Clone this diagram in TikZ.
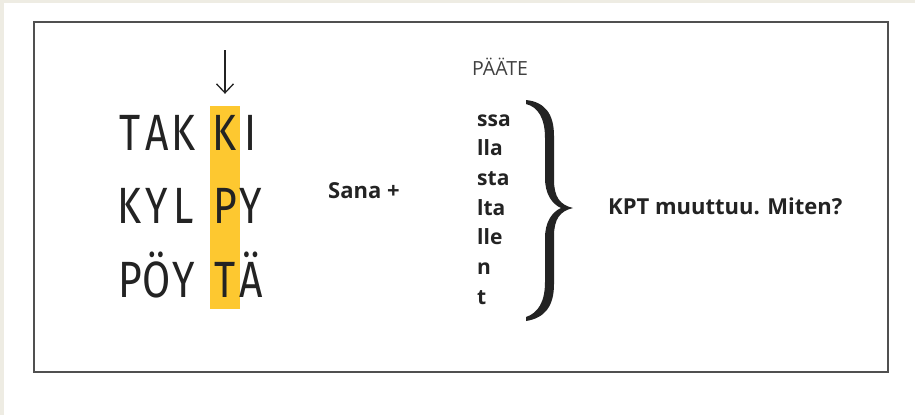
\documentclass[tikz,border=0pt]{standalone}
\usepackage{fontspec}
\setmainfont{Open Sans}
\newfontfamily\letterFont[FakeStretch=0.8]{Fira Sans}
\usetikzlibrary{arrows.meta}
\tikzset{>={Straight Barb[length=9pt,width=17pt]}}
\definecolor{pageColour}{RGB}{238,236,227}
\definecolor{frameColour}{RGB}{80,80,80}
\definecolor{barColour}{RGB}{253,200,48}
\definecolor{inkColour}{RGB}{35,35,35}
\tikzset{
	wordletter/.style={anchor=base, inner sep=0pt, text=inkColour, font=\letterFont\fontsize{51}{51}\selectfont},
	suffix/.style={anchor=base west, inner sep=0pt, text=inkColour, font=\bfseries\fontsize{21}{21}\selectfont},
	label/.style={anchor=base west, inner sep=0pt, text=inkColour, font=\bfseries\fontsize{22}{22}\selectfont},
	heading/.style={anchor=base west, inner sep=0pt, text=black!75, font=\fontsize{19.5}{19.5}\selectfont},
	pointer/.style={->, line width=1.3pt, draw=inkColour, shorten >=12pt}
}

\begin{document}
\begin{tikzpicture}[x=1pt, y=-1pt]
		\useasboundingbox (0, 0) rectangle (915, 415);
		% the page
		\fill[pageColour] (0, 0) rectangle (915, 415);
		\fill[white] (4, 3) rectangle (915, 415);
		\draw[draw=frameColour, line width=2pt] (33.5, 22) rectangle (888, 372);

		% the highlighted column
		\node[fill=barColour, minimum width=30pt, minimum height=203pt, inner sep=0pt] (kptbar) at (225, 207.5) {};
		\coordinate (arrowtop) at (225, 50);
		\draw[pointer] (arrowtop) -- (kptbar.north);

		% the words
		\foreach \letters/\row/\ybase in {{T,A,K,K,I}/takki/150, {K,Y,L,P,Y}/kylpy/223, {P,Ö,Y,T,Ä}/poyta/297} {
			\foreach \ch [count=\i] in \letters {
				\pgfmathsetmacro\colx{{130,157,184,225,251}[\i-1]}
				\node[wordletter] (\row\i) at (\colx, \ybase) {\ch};
			}
		}

		% the endings
		\node[label] (sana) at (328, 198) {Sana +};
		\node[heading] (paate) at (472, 75) {PÄÄTE};
		\foreach \suf [count=\i] in {ssa,lla,sta,lta,lle,n,t} {
			\node[suffix] (suf\i) at (477, {96.3+29.7*\i}) {\suf};
		}

		% the brace
		\fill[inkColour] (526, 100) .. controls (545, 102) and (554, 114) .. (554, 136)
			-- (554, 180) .. controls (554, 197) and (560, 205) .. (573, 208)
			.. controls (560, 211) and (554, 219) .. (554, 236)
			-- (554, 284) .. controls (554, 306) and (545, 318) .. (526, 321)
			-- (526, 317) .. controls (538, 313) and (545, 302) .. (545, 282)
			-- (545, 238) .. controls (545, 222) and (552, 212) .. (561, 208)
			.. controls (552, 204) and (545, 194) .. (545, 178)
			-- (545, 138) .. controls (545, 118) and (538, 107) .. (526, 104) -- cycle;

		\node[label] (kpt) at (608, 214) {KPT muuttuu. Miten?};
	\end{tikzpicture}
\end{document}
